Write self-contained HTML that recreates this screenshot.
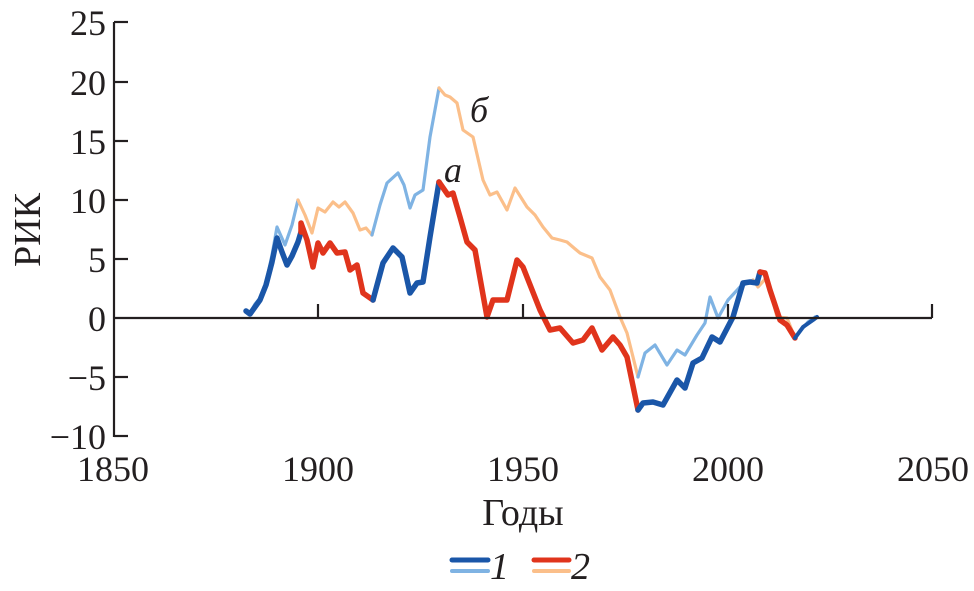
<!DOCTYPE html>
<html><head><meta charset="utf-8"><style>
html,body{margin:0;padding:0;background:#fff;}
svg{display:block;}
text{font-family:"Liberation Serif",serif;fill:#231f20;}
</style></head><body>
<svg width="974" height="591" viewBox="0 0 974 591" xmlns="http://www.w3.org/2000/svg">
<g fill="none" stroke-linejoin="round" stroke-linecap="round">
<polyline stroke="#7fb3e3" stroke-width="3.2" points="246,311 250,313 255,304 260,298 266,283 272,255 277,227 285,245 292,225 298,200"/>
<polyline stroke="#fbbf8a" stroke-width="3.2" points="298,200 305,215 312,233 318,208 325,212 333,202 339,207 345,202 353,213 360,230 366,228 372,235"/>
<polyline stroke="#7fb3e3" stroke-width="3.2" points="372,235 380,205 387,183 398,173 404,185 410,208 415,195 423,190 430,137 439,88"/>
<polyline stroke="#fbbf8a" stroke-width="3.2" points="439,88 445,95 450,97 457,103 463,130 473,137 483,180 490,195 497,192 507,210 515,188 527,207 535,215 543,227 552,238 560,240 567,242 574,248 580,253 592,258 600,277 610,290 620,317 627,333 638,377"/>
<polyline stroke="#7fb3e3" stroke-width="3.2" points="638,377 645,353 655,345 667,365 677,350 685,355 697,335 705,323 710,297 718,318 728,300 740,287 753,280"/>
<polyline stroke="#fbbf8a" stroke-width="3.2" points="753,280 758,287 767,277 777,317 787,318 795,338"/>
<polyline stroke="#7fb3e3" stroke-width="3.2" points="795,338 803,328 808,322 815,317"/>
<polyline stroke="#1a56a8" stroke-width="5.5" points="246,311 250,314 255,307 260,300 266,285 272,262 277,238 282,252 287,265 292,256 298,242 301,232"/>
<polyline stroke="#e0341c" stroke-width="5.5" points="301,232 301,223 307,240 313,267 318,243 323,253 330,243 337,253 345,252 350,270 357,265 363,293 373,300"/>
<polyline stroke="#1a56a8" stroke-width="5.5" points="373,300 383,263 393,248 402,257 410,293 417,283 423,282 430,237 439,182"/>
<polyline stroke="#e0341c" stroke-width="5.5" points="439,182 448,195 453,193 460,217 467,242 475,250 487,317 493,300 507,300 517,260 523,267 540,310 550,330 560,328 573,343 583,340 592,328 602,350 613,337 620,345 627,357 638,410"/>
<polyline stroke="#1a56a8" stroke-width="5.5" points="638,410 643,403 653,402 663,405 677,380 685,388 693,363 702,358 712,337 720,342 733,317 743,283 750,282 757,283 760,272"/>
<polyline stroke="#e0341c" stroke-width="5.5" points="760,272 765,273 770,290 780,320 787,325 795,338"/>
<polyline stroke="#1a56a8" stroke-width="4" points="795,338 803,327 813,320 817,317"/>
</g>
<g stroke="#231f20" stroke-width="2.2" fill="none">
<line x1="114" y1="22" x2="114" y2="437"/>
<line x1="114" y1="318" x2="932" y2="318"/>
<line x1="114" y1="22" x2="128" y2="22"/>
<line x1="114" y1="82" x2="128" y2="82"/>
<line x1="114" y1="141" x2="128" y2="141"/>
<line x1="114" y1="200" x2="128" y2="200"/>
<line x1="114" y1="259" x2="128" y2="259"/>
<line x1="114" y1="377" x2="128" y2="377"/>
<line x1="114" y1="436" x2="128" y2="436"/>
<line x1="318" y1="318" x2="318" y2="304"/>
<line x1="523" y1="318" x2="523" y2="304"/>
<line x1="728" y1="318" x2="728" y2="304"/>
<line x1="932" y1="318" x2="932" y2="304"/>
</g>
<g font-size="36" text-anchor="end">
<text x="106" y="35">25</text>
<text x="106" y="95">20</text>
<text x="106" y="154">15</text>
<text x="106" y="213">10</text>
<text x="106" y="272">5</text>
<text x="106" y="331">0</text>
<text x="106" y="390">−5</text>
<text x="106" y="449">−10</text>
</g>
<g font-size="36" text-anchor="middle">
<text x="113" y="481">1850</text>
<text x="318" y="481">1900</text>
<text x="523" y="481">1950</text>
<text x="728" y="481">2000</text>
<text x="933" y="481">2050</text>
<text x="523" y="525" font-size="38">Годы</text>
</g>
<text x="40" y="230" font-size="38" text-anchor="middle" transform="rotate(-90 40 230)">РИК</text>
<text x="470" y="122" font-size="36" font-style="italic">б</text>
<text x="444" y="182" font-size="36" font-style="italic">а</text>
<g stroke-linecap="round">
<line x1="452" y1="560" x2="488" y2="560" stroke="#1a56a8" stroke-width="5"/>
<line x1="452" y1="571" x2="488" y2="571" stroke="#7fb3e3" stroke-width="4"/>
<line x1="534" y1="560" x2="569" y2="560" stroke="#e0341c" stroke-width="5"/>
<line x1="534" y1="571" x2="569" y2="571" stroke="#fbbf8a" stroke-width="4"/>
</g>
<text x="490" y="579" font-size="38" font-style="italic">1</text>
<text x="571" y="579" font-size="38" font-style="italic">2</text>
</svg>
</body></html>
